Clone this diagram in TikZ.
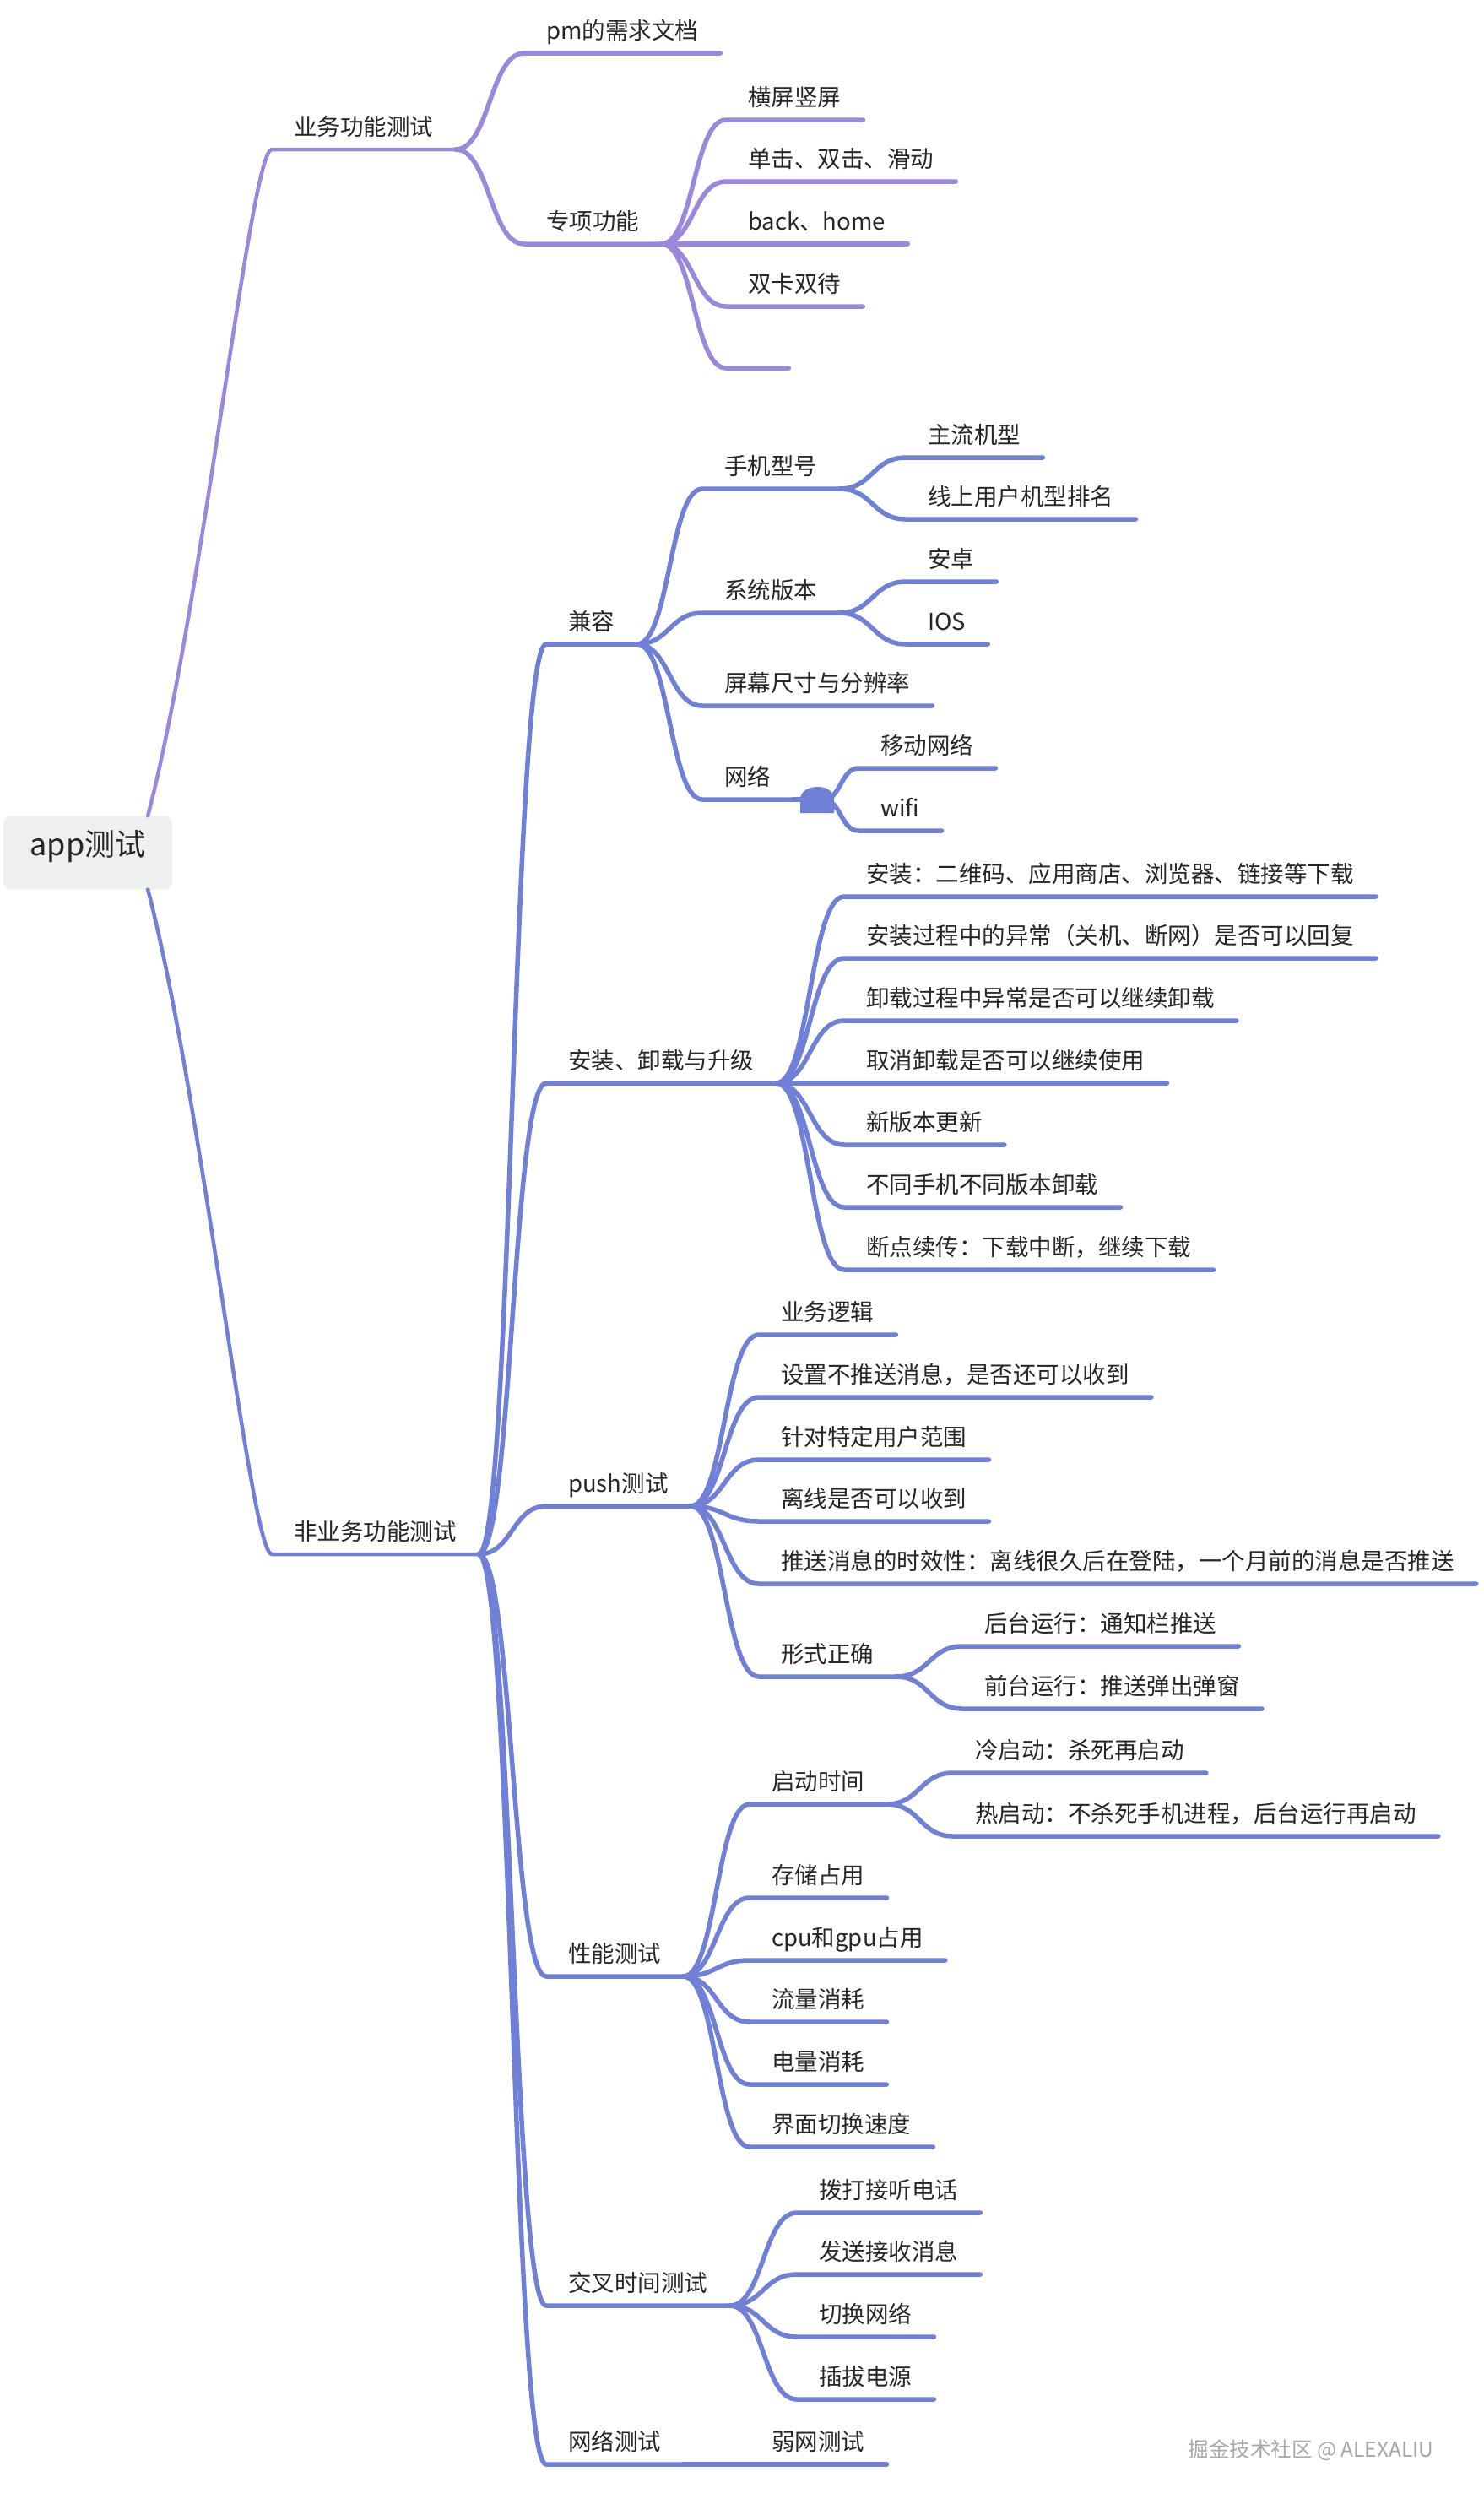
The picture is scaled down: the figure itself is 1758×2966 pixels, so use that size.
\documentclass[tikz,border=0pt]{standalone}
\usepackage{fontspec}
\setmainfont{Noto Sans CJK SC}
\usetikzlibrary{calc}

\definecolor{pu}{HTML}{9B87DC}
\definecolor{bl}{HTML}{7080D6}
\definecolor{rootbg}{HTML}{EEF0EF}
\definecolor{txt}{HTML}{262626}
\definecolor{wmgray}{HTML}{A8A8A8}

% curve from the end of a parent's underline to the start of the child's, then the child's underline
\newcommand\branch[3]{%
	\draw[link, #1] let \p1=(#2.south east), \p2=(#3.south west), \n1={(\x2-\x1)/2} in
		(\p1) .. controls +(\n1,0) and +(-\n1,0) .. (\p2) -- (#3.south east);%
}

\begin{document}
\begin{tikzpicture}[x=1pt, y=-1pt,
		link/.style={line width=5.5pt, line cap=round, line join=round},
		topic/.style={anchor=south west, inner xsep=26pt, inner ysep=0pt, text height=20pt, text depth=16pt, font=\fontsize{27.5}{30}\selectfont, text=txt},
		root/.style={fill=rootbg, rounded corners=9pt, minimum width=200pt, minimum height=87pt, inner sep=0pt, text height=.88em, text depth=.12em, font=\fontsize{36}{40}\selectfont, text=txt},
	]
		\useasboundingbox (0,0) rectangle (1758,2966);

		\node (app) [root] at (104,1010) {app测试};

		% business functions
		\node (yw) [topic] at (322,177) {业务功能测试};
		\node (pmd) [topic] at (621,63) {pm的需求文档};
		\node (zx) [topic] at (621,289) {专项功能};
		\node (hs) [topic] at (860,142) {横屏竖屏};
		\node (dj) [topic] at (860,215) {单击、双击、滑动};
		\node (bh) [topic] at (860,289) {back、home};
		\node (sk) [topic] at (860,363) {双卡双待};
		\node (kong) [topic, minimum width=74pt] at (860,436) {};

		% non-business functions
		\node (fy) [topic] at (322,1841) {非业务功能测试};

		\node (jr) [topic] at (647,763) {兼容};
		\node (sj) [topic] at (832,579) {手机型号};
		\node (zl) [topic] at (1073,542) {主流机型};
		\node (xs) [topic] at (1073,615) {线上用户机型排名};
		\node (xt) [topic] at (832,726) {系统版本};
		\node (az) [topic] at (1073,689) {安卓};
		\node (ios) [topic] at (1073,763) {IOS};
		\node (pmcc) [topic] at (832,836) {屏幕尺寸与分辨率};
		\node (wl) [topic] at (832,947) {网络};
		\node (netk) [inner sep=0pt, minimum size=0pt] at (975,947) {};
		\node (yd) [topic] at (1017,910) {移动网络};
		\node (wf) [topic] at (1017,984) {wifi};

		\node (azsj) [topic] at (647,1283) {安装、卸载与升级};
		\node (az1) [topic] at (1000,1062) {安装：二维码、应用商店、浏览器、链接等下载};
		\node (az2) [topic] at (1000,1135) {安装过程中的异常（关机、断网）是否可以回复};
		\node (az3) [topic] at (1000,1209) {卸载过程中异常是否可以继续卸载};
		\node (az4) [topic] at (1000,1283) {取消卸载是否可以继续使用};
		\node (az5) [topic] at (1000,1356) {新版本更新};
		\node (az6) [topic] at (1000,1430) {不同手机不同版本卸载};
		\node (az7) [topic] at (1000,1504) {断点续传：下载中断，继续下载};

		\node (push) [topic] at (647,1784) {push测试};
		\node (ywlj) [topic] at (899,1581) {业务逻辑};
		\node (bts) [topic] at (899,1655) {设置不推送消息，是否还可以收到};
		\node (tdyh) [topic] at (899,1729) {针对特定用户范围};
		\node (lx) [topic] at (899,1802) {离线是否可以收到};
		\node (sxx) [topic] at (899,1876) {推送消息的时效性：离线很久后在登陆，一个月前的消息是否推送};
		\node (xszq) [topic] at (899,1986) {形式正确};
		\node (ht) [topic] at (1140,1950) {后台运行：通知栏推送};
		\node (qt) [topic] at (1140,2024) {前台运行：推送弹出弹窗};

		\node (xn) [topic] at (647,2341) {性能测试};
		\node (qdsj) [topic] at (888,2137) {启动时间};
		\node (lqd) [topic] at (1129,2100) {冷启动：杀死再启动};
		\node (rqd) [topic] at (1129,2175) {热启动：不杀死手机进程，后台运行再启动};
		\node (cc) [topic] at (888,2248) {存储占用};
		\node (cpu) [topic] at (888,2322) {cpu和gpu占用};
		\node (ll) [topic] at (888,2395) {流量消耗};
		\node (dl) [topic] at (888,2469) {电量消耗};
		\node (jm) [topic] at (888,2543) {界面切换速度};

		\node (jc) [topic] at (647,2731) {交叉时间测试};
		\node (jc1) [topic] at (944,2621) {拨打接听电话};
		\node (jc2) [topic] at (944,2694) {发送接收消息};
		\node (jc3) [topic] at (944,2768) {切换网络};
		\node (jc4) [topic] at (944,2842) {插拔电源};

		\node (wc) [topic] at (647,2919) {网络测试};
		\node (rw) [topic] at (888,2919) {弱网测试};

		\node (wm) [anchor=west, font=\fontsize{24.5}{26}\selectfont, text=wmgray] at (1404,2902) {掘金技术社区 @ ALEXALIU};

		% root branches
		\draw[link, pu, line width=4.5pt] ([xshift=-29pt]app.north east) .. controls +(65,-250) and +(-25,0) .. (yw.south west) -- (yw.south east);
		\draw[link, bl, line width=4.5pt] ([xshift=-29pt]app.south east) .. controls +(65,250) and +(-25,0) .. (fy.south west) -- (fy.south east);

		\branch{pu}{yw}{pmd}
		\branch{pu}{yw}{zx}
		\branch{pu}{zx}{hs}
		\branch{pu}{zx}{dj}
		\branch{pu}{zx}{bh}
		\branch{pu}{zx}{sk}
		\branch{pu}{zx}{kong}

		\branch{bl}{fy}{jr}
		\branch{bl}{fy}{azsj}
		\branch{bl}{fy}{push}
		\branch{bl}{fy}{xn}
		\branch{bl}{fy}{jc}
		\branch{bl}{fy}{wc}

		\branch{bl}{jr}{sj}
		\branch{bl}{jr}{xt}
		\branch{bl}{jr}{pmcc}
		\branch{bl}{jr}{wl}
		\branch{bl}{sj}{zl}
		\branch{bl}{sj}{xs}
		\branch{bl}{xt}{az}
		\branch{bl}{xt}{ios}
		\draw[link, bl] (wl.south east) -- (netk);
		\fill[bl] (948,963) -- (948,947) .. controls (948,937) and (958,932) .. (969,932) .. controls (980,932) and (988,938) .. (988,947) -- (988,963) -- cycle;
		\branch{bl}{netk}{yd}
		\branch{bl}{netk}{wf}

		\branch{bl}{azsj}{az1}
		\branch{bl}{azsj}{az2}
		\branch{bl}{azsj}{az3}
		\branch{bl}{azsj}{az4}
		\branch{bl}{azsj}{az5}
		\branch{bl}{azsj}{az6}
		\branch{bl}{azsj}{az7}

		\branch{bl}{push}{ywlj}
		\branch{bl}{push}{bts}
		\branch{bl}{push}{tdyh}
		\branch{bl}{push}{lx}
		\branch{bl}{push}{sxx}
		\branch{bl}{push}{xszq}
		\branch{bl}{xszq}{ht}
		\branch{bl}{xszq}{qt}

		\branch{bl}{xn}{qdsj}
		\branch{bl}{xn}{cc}
		\branch{bl}{xn}{cpu}
		\branch{bl}{xn}{ll}
		\branch{bl}{xn}{dl}
		\branch{bl}{xn}{jm}
		\branch{bl}{qdsj}{lqd}
		\branch{bl}{qdsj}{rqd}

		\branch{bl}{jc}{jc1}
		\branch{bl}{jc}{jc2}
		\branch{bl}{jc}{jc3}
		\branch{bl}{jc}{jc4}

		\branch{bl}{wc}{rw}
	\end{tikzpicture}
\end{document}
